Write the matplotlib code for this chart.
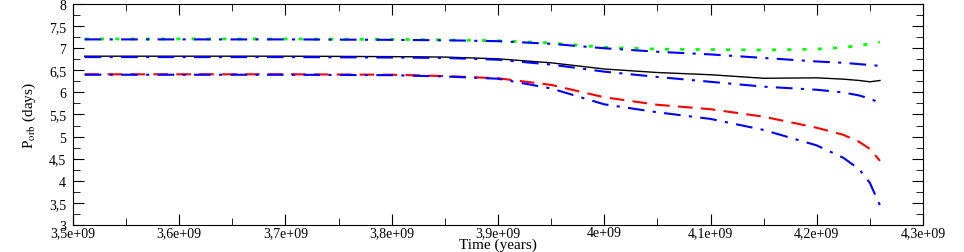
import matplotlib
matplotlib.use("Agg")
import matplotlib.pyplot as plt
from matplotlib.ticker import MultipleLocator, FuncFormatter

# time grid (years) and orbital periods (days)
time = [3.511e9, 3.6e9, 3.7e9, 3.8e9, 3.85e9, 3.9e9, 3.95e9, 4.0e9, 4.05e9,
        4.1e9, 4.15e9, 4.2e9, 4.225e9, 4.24e9, 4.25e9, 4.2595e9]

p_green = [7.21, 7.21, 7.21, 7.20, 7.19, 7.17, 7.12, 7.02, 6.98,
           6.97, 6.96, 6.98, 7.02, 7.06, 7.10, 7.14]
p_blue_top = [7.20, 7.20, 7.20, 7.19, 7.18, 7.16, 7.10, 7.00, 6.92,
              6.86, 6.78, 6.70, 6.67, 6.64, 6.62, 6.60]
p_black = [6.82, 6.82, 6.82, 6.81, 6.80, 6.76, 6.67, 6.53, 6.45,
           6.40, 6.32, 6.33, 6.30, 6.27, 6.24, 6.27]
p_blue_mid = [6.80, 6.80, 6.80, 6.79, 6.78, 6.74, 6.63, 6.47, 6.35,
              6.24, 6.13, 6.06, 6.00, 5.93, 5.86, 5.76]
p_red = [6.41, 6.41, 6.41, 6.40, 6.37, 6.32, 6.17, 5.89, 5.72,
         5.62, 5.45, 5.20, 5.04, 4.88, 4.72, 4.45]
p_blue_low = [6.40, 6.40, 6.40, 6.39, 6.36, 6.31, 6.09, 5.73, 5.55,
              5.40, 5.15, 4.80, 4.52, 4.26, 3.95, 3.44]

plt.rcParams["mathtext.fontset"] = "stix"

fig = plt.figure(figsize=(9.64, 2.53), dpi=100)
ax = fig.add_axes([0.0757, 0.107, 0.8818, 0.873])

ax.plot(time, p_green, color="#00ff00", ls=(0, (1.5, 4)), lw=2)
ax.plot(time, p_blue_top, color="blue", ls=(0, (8, 4, 1.5, 4)), lw=1.5)
ax.plot(time, p_black, color="black", ls="-", lw=1)
ax.plot(time, p_blue_mid, color="blue", ls=(0, (8, 4, 1.5, 4)), lw=1.5)
ax.plot(time, p_red, color="red", ls=(0, (7, 4)), lw=1.5)
ax.plot(time, p_blue_low, color="blue", ls=(0, (8, 4, 1.5, 4)), lw=1.5)

ax.set_xlim(3.5e9, 4.3e9)
ax.set_ylim(3, 8)
ax.xaxis.set_major_locator(MultipleLocator(1e8))
ax.xaxis.set_minor_locator(MultipleLocator(5e7))
ax.yaxis.set_major_locator(MultipleLocator(0.5))
ax.yaxis.set_minor_locator(MultipleLocator(0.25))


def xfmt(v, pos):
    if abs(v - 4e9) < 1:
        return "4e+09"
    return ("%.1fe+09" % (v / 1e9)).replace(".", ",")


def yfmt(v, pos):
    if abs(v - round(v)) < 1e-6:
        return "%d" % round(v)
    return ("%.1f" % v).replace(".", ",")


ax.xaxis.set_major_formatter(FuncFormatter(xfmt))
ax.yaxis.set_major_formatter(FuncFormatter(yfmt))

ax.tick_params(which="both", direction="in", top=True, right=True,
               labelsize=10)
ax.tick_params(axis="x", pad=1)
ax.tick_params(axis="y", pad=5)
ax.tick_params(which="major", length=8)
ax.tick_params(which="minor", length=5)
for lab in ax.get_xticklabels() + ax.get_yticklabels():
    lab.set_family("Liberation Serif")

ax.set_xlabel("Time (years)", family="Liberation Serif", fontsize=11, va="bottom")
# x label sits right at the bottom edge of the figure, as in the reference
ax.xaxis.set_label_coords(0.5, -0.118)
ax.set_ylabel(r"P$_{\rm orb}$ (days)", family="Liberation Serif", fontsize=11,
              labelpad=8)

fig.savefig("out.png", dpi=100)
